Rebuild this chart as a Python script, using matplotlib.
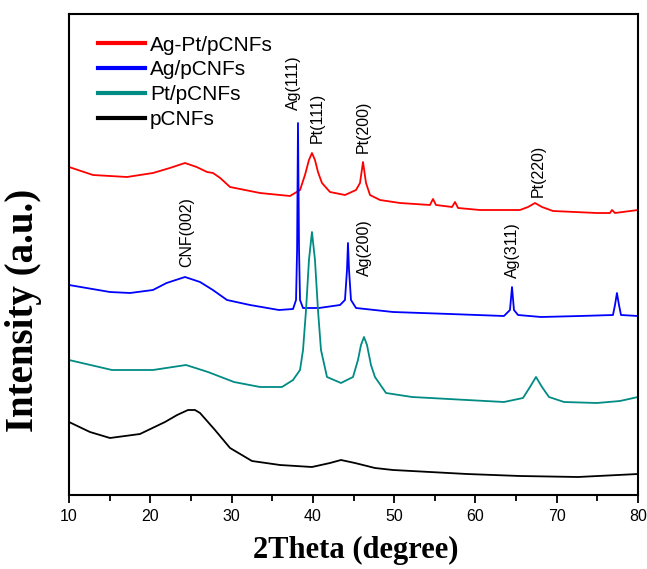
import matplotlib
matplotlib.use("Agg")
import matplotlib.pyplot as plt
from matplotlib.ticker import MultipleLocator

# ---- data (2theta in degrees, intensity in arbitrary units, curves offset as in the figure) ----
agpt_x = [10.0, 12.95, 17.13, 20.33, 22.4, 24.27, 25.7, 26.98, 27.72, 28.6, 29.81, 33.50, 37.19,
          38.42, 39.03, 39.52, 39.89, 40.26, 40.63, 41.12, 42.11, 43.95, 45.31, 45.80, 46.17, 46.54,
          47.03, 48.26, 50.72, 54.41, 54.78, 55.15, 57.12, 57.49, 57.86, 60.56, 65.48, 66.47, 67.33,
          68.19, 69.54, 74.95, 76.55, 76.80, 77.17, 80.0]
agpt_y = [328, 320, 318, 322, 327, 332, 328, 323, 322, 317, 308, 302, 299,
          305, 320, 335, 342, 335, 323, 312, 303, 300, 305, 312, 333, 312,
          300, 295, 292, 290, 296, 290, 288, 293, 287, 285, 285, 288, 292,
          288, 284, 282, 282, 285, 282, 285]

ag_x = [10.0, 15.04, 17.5, 20.33, 22.0, 24.27, 26.12, 27.7, 29.44, 32.27, 35.83, 37.56, 37.93, 38.06,
        38.17, 38.30, 38.42, 38.79, 40.76, 43.34, 43.95, 44.20, 44.32, 44.45, 44.69, 45.31, 49.86,
        56.87, 63.51, 64.25, 64.50, 64.74, 65.24, 68.07, 72.86, 76.92, 77.17, 77.41, 77.66, 77.91, 80.0]
ag_y = [210, 203, 202, 205, 212, 218, 213, 205, 195, 190, 185, 186, 195, 245,
        372, 245, 195, 187, 187, 190, 195, 225, 252, 225, 195, 187, 183,
        181, 179, 185, 208, 185, 180, 178, 179, 180, 190, 202, 190, 180, 179]

pt_x = [10.0, 15.29, 20.33, 24.39, 27.10, 30.30, 33.50, 36.20, 37.56, 38.42, 38.79, 39.16, 39.52,
        39.89, 40.26, 40.63, 41.00, 41.74, 43.46, 44.94, 45.55, 45.92, 46.29, 46.66, 47.15, 47.64,
        49.00, 52.20, 58.96, 63.51, 65.85, 66.71, 67.45, 68.19, 69.05, 70.90, 74.95, 77.78, 80.0]
pt_y = [135, 125, 125, 130, 123, 113, 108, 108, 115, 125, 145, 185, 235,
        263, 235, 185, 145, 118, 112, 118, 135, 150, 158, 150, 130, 118,
        102, 98, 95, 93, 97, 108, 118, 108, 98, 93, 92, 94, 98]

cnf_x = [10.0, 12.58, 15.04, 18.73, 21.81, 23.3, 24.64, 25.5, 26.12, 27.96, 29.81, 32.51, 35.96,
         39.89, 42.11, 43.46, 45.18, 47.64, 49.86, 58.96, 65.48, 72.62, 80.0]
cnf_y = [73, 63, 57, 61, 73, 80, 85, 85, 82, 65, 47, 34, 30,
         28, 32, 35, 32, 27, 25, 21, 19, 18, 21]

series_labels = ["Ag-Pt/pCNFs", "Ag/pCNFs", "Pt/pCNFs", "pCNFs"]
series_colors = ["#ff0000", "#0000ff", "#008b84", "#000000"]

peak_labels = ["Ag(111)", "Pt(111)", "Pt(200)", "Pt(220)", "CNF(002)", "Ag(200)", "Ag(311)"]
peak_label_x = [37.6, 40.5, 46.2, 67.7, 24.5, 46.4, 64.5]
peak_label_y = [385, 352, 342, 298, 228, 219, 217]

x_ticks = [10, 20, 30, 40, 50, 60, 70, 80]

# ---- figure ----
fig = plt.figure(figsize=(6.47, 5.69), dpi=100)
ax = fig.add_axes([69/647, 74/569, 569/647, 481/569])

sans = "Liberation Sans"
serif = "Liberation Serif"

for xs, ys, lab, col in zip([agpt_x, ag_x, pt_x, cnf_x], [agpt_y, ag_y, pt_y, cnf_y],
                            series_labels, series_colors):
    ax.plot(xs, ys, color=col, lw=1.3, label=lab)

for t, xx, yy in zip(peak_labels, peak_label_x, peak_label_y):
    ax.text(xx, yy, t, rotation=90, ha="center", va="bottom", fontsize=11.5, family=sans)

ax.set_xlim(10, 80)
ax.set_ylim(0, 481)
ax.set_xticks(x_ticks)
ax.xaxis.set_minor_locator(MultipleLocator(5))
ax.set_yticks([])
ax.tick_params(axis="x", which="major", direction="out", length=6, width=1.3, labelsize=11.5, pad=4)
ax.tick_params(axis="x", which="minor", direction="out", length=4, width=1.3)
for lbl in ax.get_xticklabels():
    lbl.set_family(sans)
for sp in ax.spines.values():
    sp.set_linewidth(1.5)

ax.set_xlabel("2Theta (degree)", fontsize=22, fontweight="bold", family=serif)
ax.set_ylabel("Intensity (a.u.)", fontsize=28, fontweight="bold", family=serif)
ax.xaxis.set_label_coords(0.504, -0.085)
ax.yaxis.set_label_coords(-0.048, 0.383)

leg = ax.legend(loc="upper left", bbox_to_anchor=(0.051, 0.955), frameon=False,
                prop={"family": sans, "size": 15}, handlelength=2.25, handletextpad=0.25,
                labelspacing=0.28, borderpad=0, borderaxespad=0)
for h in leg.get_lines():
    h.set_linewidth(3)

fig.savefig("out.png", dpi=100)
